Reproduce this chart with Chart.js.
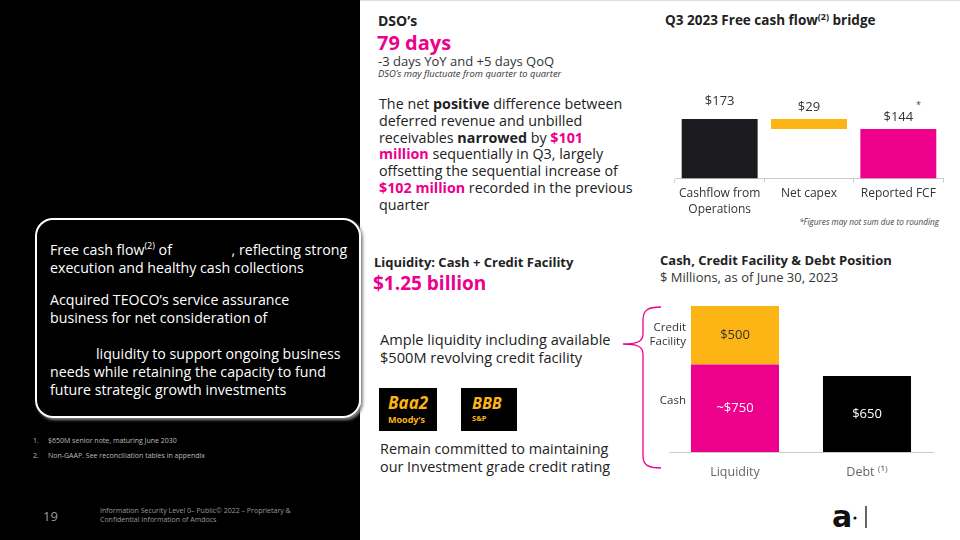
<!DOCTYPE html>
<html>
<head>
<meta charset="utf-8">
<script src="https://cdn.jsdelivr.net/npm/chart.js@4"></script>
<style>
  html, body { margin: 0; padding: 0; }
  body { width: 960px; height: 540px; position: relative; overflow: hidden; background: #fff; font-family: 'Open Sans', sans-serif; color: #222; }
  .abs { position: absolute; white-space: nowrap; }
  .pink { color: #EC008C; }
  sup { line-height: 0; font-size: 9px; }
  #left { position: absolute; left: 0; top: 0; width: 360px; height: 540px; background: #000; }
  #box { position: absolute; left: 35px; top: 218px; width: 322px; height: 196px; border: 2px solid #fff; border-radius: 18px; box-shadow: 2px 2px 3px #888; }
  .boxtext { color: #fff; font-size: 14.2px; line-height: 18px; }
  .gap { display: inline-block; }
  .foot { color: #bbb; font-size: 7px; }
  .rating { position: absolute; background: #000; color: #FDB515; font-weight: bold; }
</style>
</head>
<body>
<div class="abs" style="left:360px;top:0;width:600px;height:1px;background:#ddd;"></div>
<div id="left"></div>
<div id="box"></div>
<div class="abs boxtext" style="left:50px;top:241px;">Free cash flow<sup>(2)</sup> of <span class="gap" style="width:56px"></span>, reflecting strong<br>execution and healthy cash collections</div>
<div class="abs boxtext" style="left:50px;top:291px;">Acquired TEOCO’s service assurance<br>business for net consideration of</div>
<div class="abs boxtext" style="left:50px;top:345px;"><span class="gap" style="width:46px"></span>liquidity to support ongoing business<br>needs while retaining the capacity to fund<br>future strategic growth investments</div>
<div class="abs foot" style="left:33px;top:436px;">1.</div>
<div class="abs foot" style="left:48px;top:436px;">$650M senior note, maturing June 2030</div>
<div class="abs foot" style="left:33px;top:451px;">2.</div>
<div class="abs foot" style="left:48px;top:451px;">Non-GAAP. See reconciliation tables in appendix</div>
<div class="abs" style="left:43px;top:507px;color:#999;font-size:13px;">19</div>
<div class="abs foot" style="left:100px;top:506px;color:#999;line-height:9px;">Information Security Level 0– Public© 2022 – Proprietary &amp;<br>Confidential Information of Amdocs</div>

<div class="abs" style="left:378px;top:11px;font-weight:bold;font-size:14px;">DSO’s</div>
<div class="abs pink" style="left:377px;top:29px;font-weight:bold;font-size:20px;">79 days</div>
<div class="abs" style="left:378px;top:52px;font-size:13px;color:#333;">-3 days YoY and +5 days QoQ</div>
<div class="abs" style="left:378px;top:67px;font-size:9.4px;font-style:italic;color:#333;">DSO’s may fluctuate from quarter to quarter</div>
<div class="abs" style="left:379px;top:96px;font-size:14.3px;line-height:16.8px;color:#222;">The net <b>positive</b> difference between<br>deferred revenue and unbilled<br>receivables <b>narrowed</b> by <b class="pink">$101<br>million</b> sequentially in Q3, largely<br>offsetting the sequential increase of<br><b class="pink">$102 million</b> recorded in the previous<br>quarter</div>

<div class="abs" style="left:665px;top:11px;font-weight:bold;font-size:13.5px;">Q3 2023 Free cash flow<sup>(2)</sup> bridge</div>
<div class="abs" style="left:916px;top:98px;font-size:9px;color:#444;">*</div>
<div class="abs" style="right:21px;top:216px;font-size:8.2px;font-style:italic;color:#444;">*Figures may not sum due to rounding</div>

<div class="abs" style="left:374px;top:253px;font-weight:bold;font-size:13px;">Liquidity: Cash + Credit Facility</div>
<div class="abs pink" style="left:373px;top:270px;font-weight:bold;font-size:19px;">$1.25 billion</div>
<div class="abs" style="left:380px;top:331px;font-size:14.6px;line-height:17.5px;">Ample liquidity including available<br>$500M revolving credit facility</div>
<div class="rating" style="left:379px;top:388px;width:58px;height:43px;">
  <div style="position:absolute;left:9px;top:3px;font-size:17px;font-style:italic;">Baa2</div>
  <div style="position:absolute;left:9px;top:25px;font-size:9px;">Moody’s</div>
</div>
<div class="rating" style="left:461px;top:388px;width:56px;height:43px;">
  <div style="position:absolute;left:11px;top:4px;font-size:16px;font-style:italic;">BBB</div>
  <div style="position:absolute;left:11px;top:25px;font-size:7.5px;">S&amp;P</div>
</div>
<div class="abs" style="left:380px;top:440px;font-size:14.4px;line-height:17.5px;">Remain committed to maintaining<br>our Investment grade credit rating</div>

<div class="abs" style="left:660px;top:251px;font-weight:bold;font-size:13px;">Cash, Credit Facility &amp; Debt Position</div>
<div class="abs" style="left:660px;top:268px;font-size:13px;color:#333;">$ Millions, as of June 30, 2023</div>

<svg class="abs" style="left:0;top:0;" width="960" height="540">
  <path d="M661,307 C648,307 643,310 643,320 L643,334 C643,342 636,344 623,344 C636,344 643,346 643,354 L643,456 C643,465 648,468 661,468" fill="none" stroke="#EC008C" stroke-width="1.3"/>
  <text x="832" y="527" font-family="DejaVu Sans" font-weight="bold" font-size="30" fill="#111">a</text>
  <circle cx="855" cy="518" r="1.6" fill="#111"/>
  <line x1="866" y1="506" x2="866" y2="528" stroke="#111" stroke-width="1.3"/>
</svg>

<div class="abs" style="left:662px;top:49px;width:292px;height:172px;"><canvas id="bridgeChart"></canvas></div>
<div class="abs" style="left:612px;top:285px;width:340px;height:200px;"><canvas id="debtChart"></canvas></div>

<script>
// FCF bridge ($M)
const bridgeLabels = [['Cashflow from', 'Operations'], 'Net capex', 'Reported FCF'];
const cashflowOps = 173;
const netCapex = 29;
const reportedFcf = 144;
const bridgeColors = ['#1B1A1F', '#FDB515', '#EC008C'];

// Cash / credit / debt ($M)
const positionLabels = ['Liquidity', 'Debt ⁽¹⁾'];
const cashValues = [750, null];
const creditValues = [500, null];
const debtValues = [null, 650];
const positionText = {
    'Cash': ['~$750'],
    'Credit Facility': ['$500'],
    'Debt': [null, '$650']
};

const tickFont = { size: 12, family: "'Open Sans', sans-serif", lineHeight: 1.35 };

const bridgeData = [
    [0, cashflowOps],
    [cashflowOps - netCapex, cashflowOps],
    [0, reportedFcf]
];
const bridgeText = ['$' + cashflowOps, '$' + netCapex, '$' + reportedFcf];

const barTopLabels = {
    id: 'barTopLabels',
    afterDatasetsDraw(chart) {
        const ctx = chart.ctx;
        const meta = chart.getDatasetMeta(0);
        ctx.save();
        ctx.font = "13px 'Open Sans', sans-serif";
        ctx.fillStyle = '#333';
        ctx.textAlign = 'center';
        ctx.textBaseline = 'bottom';
        meta.data.forEach((bar, i) => {
            const top = Math.min(bar.y, bar.base);
            const lift = i === 0 ? 11 : 5;
            ctx.fillText(bridgeText[i], bar.x, top - lift);
        });
        ctx.restore();
    }
};

new Chart(document.getElementById('bridgeChart').getContext('2d'), {
    type: 'bar',
    data: {
        labels: bridgeLabels,
        datasets: [{
            data: bridgeData,
            backgroundColor: bridgeColors,
            borderWidth: 0,
            barPercentage: 0.85,
            categoryPercentage: 1
        }]
    },
    options: {
        responsive: true,
        maintainAspectRatio: false,
        animation: false,
        layout: { padding: { left: 13, right: 11, top: 0, bottom: 0 } },
        plugins: { legend: { display: false }, tooltip: { enabled: false } },
        scales: {
            x: {
                grid: { drawOnChartArea: false, drawTicks: true, tickLength: 4, offset: true, color: '#ccc' },
                border: { display: true, color: '#ccc' },
                ticks: { color: '#333', font: tickFont, padding: 3, maxRotation: 0 }
            },
            y: { display: false, min: 0, max: 376 }
        }
    },
    plugins: [barTopLabels]
});

const segmentLabels = {
    id: 'segmentLabels',
    afterDatasetsDraw(chart) {
        const ctx = chart.ctx;
        ctx.save();
        ctx.textBaseline = 'middle';
        chart.data.datasets.forEach((ds, di) => {
            const meta = chart.getDatasetMeta(di);
            meta.data.forEach((bar, i) => {
                if (ds.data[i] == null) return;
                const mid = (bar.y + bar.base) / 2;
                const txt = positionText[ds.label][i];
                ctx.font = "13px 'Open Sans', sans-serif";
                ctx.textAlign = 'center';
                ctx.fillStyle = ds.label === 'Credit Facility' ? '#333' : '#fff';
                if (txt) ctx.fillText(txt, bar.x, mid);
                if (ds.label !== 'Debt') {
                    ctx.font = "11.5px 'Open Sans', sans-serif";
                    ctx.textAlign = 'right';
                    ctx.fillStyle = '#333';
                    const x = bar.x - bar.width / 2 - 5;
                    if (ds.label === 'Credit Facility') {
                        ctx.fillText('Credit', x, mid - 7);
                        ctx.fillText('Facility', x, mid + 7);
                    } else {
                        ctx.fillText(ds.label, x, mid - 7);
                    }
                }
            });
        });
        ctx.restore();
    }
};

new Chart(document.getElementById('debtChart').getContext('2d'), {
    type: 'bar',
    data: {
        labels: positionLabels,
        datasets: [
            { label: 'Cash', data: cashValues, backgroundColor: '#EC008C' },
            { label: 'Credit Facility', data: creditValues, backgroundColor: '#FDB515' },
            { label: 'Debt', data: debtValues, backgroundColor: '#000' }
        ]
    },
    options: {
        responsive: true,
        maintainAspectRatio: false,
        animation: false,
        datasets: { bar: { barPercentage: 0.667, categoryPercentage: 1, borderWidth: 0, skipNull: true } },
        layout: { padding: { left: 57, right: 19, top: 0, bottom: 0 } },
        plugins: { legend: { display: false }, tooltip: { enabled: false } },
        scales: {
            x: {
                stacked: true,
                grid: { display: false },
                border: { display: true, color: '#ccc' },
                ticks: { color: '#666', font: { size: 12.5, family: "'Open Sans', sans-serif" }, padding: 5 }
            },
            y: { stacked: true, display: false, min: 0, max: 1430 }
        }
    },
    plugins: [segmentLabels]
});
</script>
</body>
</html>
